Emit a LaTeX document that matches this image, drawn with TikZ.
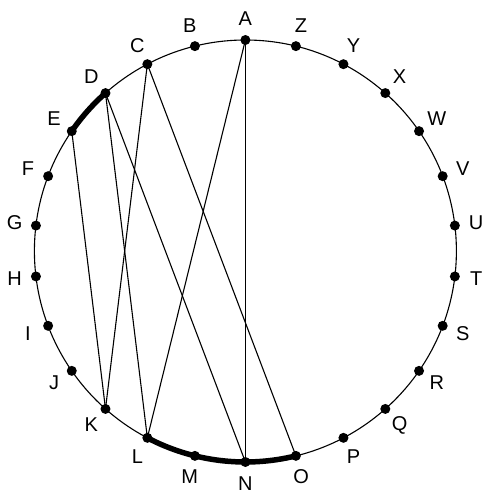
\documentclass[tikz,border=0pt]{standalone}
\usepackage{fontspec}
\setmainfont{Liberation Sans}
\usetikzlibrary{calc}
\begin{document}
\begin{tikzpicture}[x=1pt,y=1pt,
  dot/.style={circle,fill=black,inner sep=0pt,minimum size=10pt},
  lbl/.style={font=\fontsize{20}{24}\selectfont,inner sep=0pt},
  chord/.style={line width=1.1pt},
  rim/.style={line width=1.1pt},
  thickarc/.style={line width=5.5pt}]
\useasboundingbox (0,0) rectangle (484,-497);
\coordinate (ctr) at (245.4,-251);
\foreach \l [count=\i from 0] in {A,B,C,D,E,F,G,H,I,J,K,L,M,N,O,P,Q,R,S,T,U,V,W,X,Y,Z}{
  \coordinate (p\l) at ($(ctr)+({90+\i*360/26}:211)$);
  \coordinate (t\l) at ($(ctr)+({90+\i*360/26}:232.5)$);
}
\draw[rim] (ctr) circle (211);
\draw[thickarc] (pD) arc[start angle={90+3*360/26}, end angle={90+4*360/26}, radius=211];
\draw[thickarc] (pL) arc[start angle={90+11*360/26}, end angle={90+14*360/26}, radius=211];
\draw[chord] (pA) -- (pL);
\draw[chord] (pA) -- (pN);
\draw[chord] (pC) -- (pK);
\draw[chord] (pC) -- (pO);
\draw[chord] (pD) -- (pL);
\draw[chord] (pD) -- (pN);
\draw[chord] (pE) -- (pK);
\foreach \l in {A,B,C,D,E,F,G,H,I,J,K,L,M,N,O,P,Q,R,S,T,U,V,W,X,Y,Z}{
  \node[dot] (d\l) at (p\l) {};
  \node[lbl] (l\l) at (t\l) {\l};
}
\end{tikzpicture}
\end{document}
